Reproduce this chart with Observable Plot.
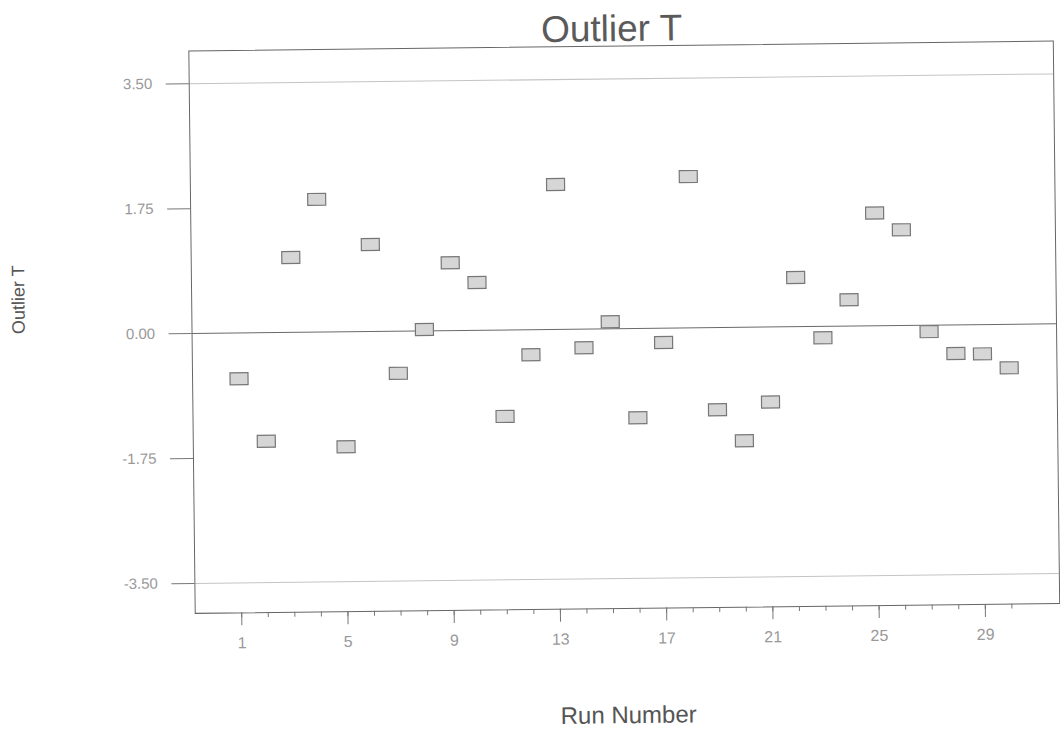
<!DOCTYPE html>
<html>
<head>
<meta charset="utf-8">
<script src="https://cdn.jsdelivr.net/npm/d3@7"></script>
<script src="https://cdn.jsdelivr.net/npm/@observablehq/plot@0.6"></script>
<style>
  html, body { margin: 0; padding: 0; background: #fff; }
  #wrap { width: 1060px; height: 729px; position: relative; overflow: hidden;
          transform-origin: 623px 327px; transform: rotate(-0.65deg); }
  #title { height: 42px; box-sizing: border-box; padding-top: 12px; margin-left: 170px; width: 890px;
           text-align: center; font-family: "Liberation Sans", Arial, sans-serif; font-size: 37px;
           line-height: 34px; color: #5a5a5a; white-space: nowrap; }
  svg { display: block; }
</style>
</head>
<body>
<div id="wrap">
  <div id="title">Outlier T</div>
  <div id="chart"></div>
</div>
<script>
const runs = [1,2,3,4,5,6,7,8,9,10,11,12,13,14,15,16,17,18,19,20,21,22,23,24,25,26,27,28,29,30];
const outlierT = [-0.64,-1.52,1.05,1.86,-1.61,1.22,-0.59,0.02,0.95,0.67,-1.21,-0.35,2.03,-0.26,0.10,-1.25,-0.20,2.12,-1.15,-1.59,-1.05,0.69,-0.16,0.37,1.58,1.34,-0.09,-0.40,-0.41,-0.61];
const yTicks = [-3.5, -1.75, 0, 1.75, 3.5];
const xMajorTicks = [1, 5, 9, 13, 17, 21, 25, 29];
const xMinorTicks = runs;
const limitLines = [-3.5, 3.5];
const centerLine = [0];
const xTitle = "Run Number";
const yTitle = "Outlier T";

const data = runs.map((r, i) => ({run: r, t: outlierT[i]}));

const boxSymbol = { draw(context) { context.rect(-9, -6, 18, 12); } };

const chart = Plot.plot({
  width: 1060,
  height: 687,
  marginLeft: 191.5,
  marginRight: 4,
  marginTop: 3.5,
  marginBottom: 121,
  style: { fontFamily: "Liberation Sans, Arial, sans-serif", background: "#fff" },
  x: { domain: [-0.75, 31.8] },
  y: { domain: [-3.92, 3.96] },
  marks: [
    Plot.ruleY(limitLines, { stroke: "#c4c4c4", strokeWidth: 1 }),
    Plot.ruleY(centerLine, { stroke: "#6a6a6a", strokeWidth: 1 }),
    Plot.frame({ stroke: "#666", strokeWidth: 1 }),
    Plot.axisY({ ticks: yTicks, tickSize: 23, tickPadding: 14, tickFormat: d => d.toFixed(2),
                 fontSize: 15, color: "#999", stroke: "#777", label: null }),
    Plot.axisX({ ticks: xMinorTicks, tickSize: 5, tickFormat: () => "", stroke: "#777", label: null }),
    Plot.axisX({ ticks: xMajorTicks, tickSize: 13, tickPadding: 11, tickFormat: d => String(d),
                 fontSize: 16, color: "#999", stroke: "#777", label: null }),
    Plot.dot(data, { x: "run", y: "t", symbol: boxSymbol, fill: "#d6d6d6", stroke: "#777", strokeWidth: 1.2 }),
    Plot.text([xTitle], { frameAnchor: "bottom", dy: 107, lineAnchor: "middle", fontSize: 24, fill: "#555" }),
    Plot.text([yTitle], { frameAnchor: "left", dx: -173, rotate: -90, lineAnchor: "middle", fontSize: 18, fill: "#555" })
  ]
});
document.getElementById("chart").appendChild(chart);
</script>
</body>
</html>
